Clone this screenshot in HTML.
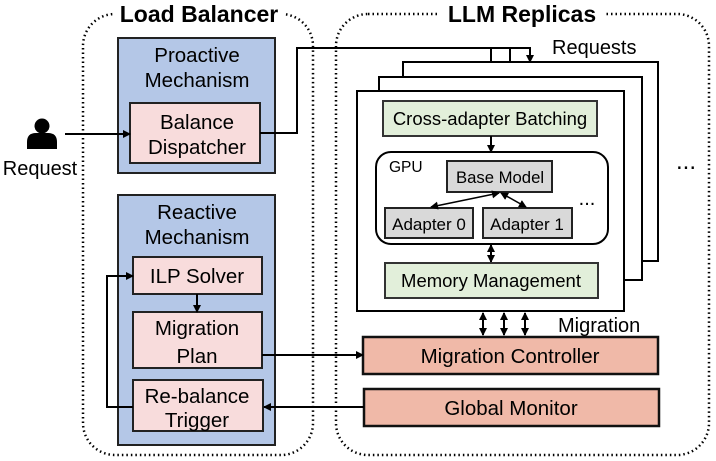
<!DOCTYPE html>
<html><head><meta charset="utf-8"><style>
html,body{margin:0;padding:0;background:#fff;}
svg{display:block;font-family:"Liberation Sans",Arial,sans-serif;}
</style></head><body>
<svg width="716" height="461" viewBox="0 0 716 461" xmlns="http://www.w3.org/2000/svg">
<defs>
<marker id="a" markerWidth="8" markerHeight="8" refX="7" refY="4" orient="auto" markerUnits="userSpaceOnUse"><path d="M0,0 L8,4 L0,8 Z" fill="#000"/></marker>
<marker id="b" markerWidth="8" markerHeight="8" refX="1" refY="4" orient="auto" markerUnits="userSpaceOnUse"><path d="M8,0 L0,4 L8,8 Z" fill="#000"/></marker>
</defs>
<!-- dotted containers -->
<rect x="83" y="14" width="230" height="441" rx="32" fill="none" stroke="#000" stroke-width="2.5" stroke-dasharray="1.5,3"/>
<rect x="336" y="14" width="373" height="441" rx="32" fill="none" stroke="#000" stroke-width="2.5" stroke-dasharray="1.5,3"/>
<rect x="113" y="0" width="172" height="26" fill="#fff"/>
<text x="199" y="22" font-size="23" font-weight="bold" text-anchor="middle">Load Balancer</text>
<rect x="440" y="0" width="164" height="26" fill="#fff"/>
<text x="522" y="22" font-size="23" font-weight="bold" text-anchor="middle">LLM Replicas</text>

<!-- person -->
<circle cx="42" cy="126" r="7.5" fill="#000"/>
<path d="M27,149 L27,142 Q27,133 36,133 L48,133 Q57,133 57,142 L57,149 Z" fill="#000"/>
<text x="40" y="175" font-size="20" text-anchor="middle">Request</text>

<!-- proactive -->
<rect x="118" y="38" width="157" height="135" fill="#b4c7e7" stroke="#222" stroke-width="2"/>
<text x="197" y="62" font-size="20.5" text-anchor="middle">Proactive</text>
<text x="197" y="87" font-size="20.5" text-anchor="middle">Mechanism</text>
<rect x="130" y="103" width="130" height="60" fill="#f8dcdc" stroke="#222" stroke-width="2"/>
<text x="197" y="129" font-size="20.5" text-anchor="middle">Balance</text>
<text x="197" y="154" font-size="20.5" text-anchor="middle">Dispatcher</text>
<line x1="65" y1="134" x2="130" y2="134" stroke="#000" stroke-width="2" marker-end="url(#a)"/>

<!-- reactive -->
<rect x="118" y="195" width="157" height="250" fill="#b4c7e7" stroke="#222" stroke-width="2"/>
<text x="197" y="219" font-size="20.5" text-anchor="middle">Reactive</text>
<text x="197" y="244" font-size="20.5" text-anchor="middle">Mechanism</text>
<rect x="133" y="257" width="129" height="37" fill="#f8dcdc" stroke="#222" stroke-width="2"/>
<text x="197" y="283" font-size="20.5" text-anchor="middle">ILP Solver</text>
<rect x="133" y="312" width="129" height="56" fill="#f8dcdc" stroke="#222" stroke-width="2"/>
<text x="197" y="335" font-size="20.5" text-anchor="middle">Migration</text>
<text x="197" y="363" font-size="20.5" text-anchor="middle">Plan</text>
<rect x="133" y="380" width="130" height="51" fill="#f8dcdc" stroke="#222" stroke-width="2"/>
<text x="197" y="403" font-size="20.5" text-anchor="middle">Re-balance</text>
<text x="197" y="427" font-size="20.5" text-anchor="middle">Trigger</text>
<line x1="197" y1="294" x2="197" y2="312" stroke="#000" stroke-width="2" marker-end="url(#a)"/>
<polyline points="133,407 107,407 107,276 133,276" fill="none" stroke="#000" stroke-width="2" marker-end="url(#a)"/>

<!-- dispatcher to replicas -->
<polyline points="260,133 297,133 297,48 530,48 530,62" fill="none" stroke="#000" stroke-width="2" marker-end="url(#a)"/>
<line x1="510" y1="48" x2="510" y2="77" stroke="#000" stroke-width="2" marker-end="url(#a)"/>
<line x1="491" y1="48" x2="491" y2="91" stroke="#000" stroke-width="2" marker-end="url(#a)"/>
<text x="552" y="54" font-size="20">Requests</text>

<!-- replica frames -->
<rect x="403" y="62" width="255" height="199" fill="#fff" stroke="#000" stroke-width="2"/>
<rect x="379" y="77" width="263" height="203" fill="#fff" stroke="#000" stroke-width="2"/>
<rect x="357" y="91" width="267" height="220" fill="#fff" stroke="#000" stroke-width="2"/>
<text x="686" y="169" font-size="24" text-anchor="middle">...</text>

<rect x="383" y="101" width="214" height="35" fill="#e2efda" stroke="#333" stroke-width="2"/>
<text x="490" y="125" font-size="18.5" text-anchor="middle">Cross-adapter Batching</text>
<line x1="491" y1="136" x2="491" y2="152" stroke="#000" stroke-width="2" marker-end="url(#a)"/>

<rect x="376" y="152" width="232" height="92" rx="15" fill="#fff" stroke="#000" stroke-width="2"/>
<text x="389" y="172" font-size="15.5">GPU</text>
<rect x="447" y="161" width="105" height="31" fill="#d9d9d9" stroke="#222" stroke-width="2"/>
<text x="500" y="183" font-size="16.7" text-anchor="middle">Base Model</text>
<rect x="385" y="208" width="88" height="30" fill="#d9d9d9" stroke="#222" stroke-width="2"/>
<text x="429" y="230" font-size="17" text-anchor="middle">Adapter 0</text>
<rect x="483" y="208" width="89" height="30" fill="#d9d9d9" stroke="#222" stroke-width="2"/>
<text x="527" y="230" font-size="17" text-anchor="middle">Adapter 1</text>
<line x1="499" y1="193" x2="431" y2="207" stroke="#000" stroke-width="1.5" marker-start="url(#b)" marker-end="url(#a)"/>
<line x1="501" y1="193" x2="526" y2="207" stroke="#000" stroke-width="1.5" marker-start="url(#b)" marker-end="url(#a)"/>
<text x="587" y="205" font-size="20" text-anchor="middle">...</text>

<line x1="491" y1="245" x2="491" y2="262" stroke="#000" stroke-width="2" marker-start="url(#b)" marker-end="url(#a)"/>
<rect x="385" y="263" width="213" height="35" fill="#e2efda" stroke="#333" stroke-width="2"/>
<text x="491" y="287" font-size="18.5" text-anchor="middle">Memory Management</text>

<!-- migration arrows -->
<line x1="483" y1="313" x2="483" y2="335" stroke="#000" stroke-width="2" marker-start="url(#b)" marker-end="url(#a)"/>
<line x1="504" y1="313" x2="504" y2="335" stroke="#000" stroke-width="2" marker-start="url(#b)" marker-end="url(#a)"/>
<line x1="525" y1="313" x2="525" y2="335" stroke="#000" stroke-width="2" marker-start="url(#b)" marker-end="url(#a)"/>
<text x="558" y="332" font-size="20">Migration</text>

<rect x="363" y="337" width="295" height="37" fill="#f0b9a8" stroke="#111" stroke-width="2.5"/>
<text x="510" y="363" font-size="20.5" text-anchor="middle">Migration Controller</text>
<rect x="364" y="389" width="295" height="37" fill="#f0b9a8" stroke="#111" stroke-width="2.5"/>
<text x="511" y="415" font-size="20.5" text-anchor="middle">Global Monitor</text>

<line x1="262" y1="355" x2="363" y2="355" stroke="#000" stroke-width="2" marker-end="url(#a)"/>
<line x1="364" y1="407" x2="264" y2="407" stroke="#000" stroke-width="2" marker-end="url(#a)"/>
</svg>
</body></html>
